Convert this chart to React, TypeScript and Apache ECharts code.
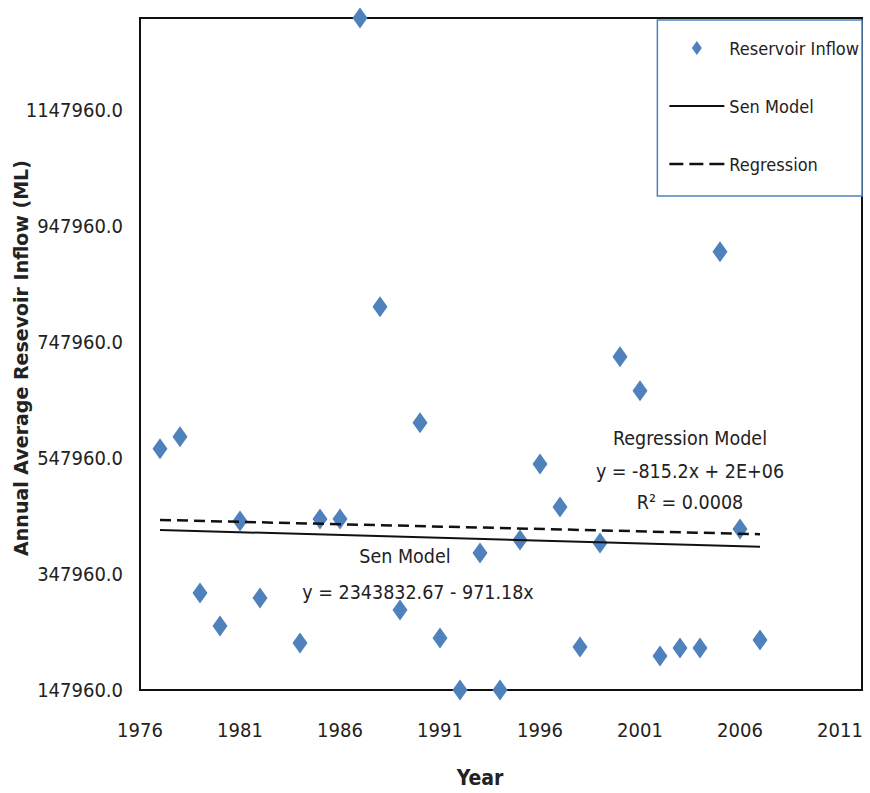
import React, { useEffect, useRef } from "react";
import * as echarts from "echarts";

const years = [1977, 1978, 1979, 1980, 1981, 1982, 1984, 1985, 1986, 1987, 1988, 1989, 1990, 1991, 1992, 1993, 1994, 1995, 1996, 1997, 1998, 1999, 2000, 2001, 2002, 2003, 2004, 2005, 2006, 2007];
const inflow = [563500, 584200, 315200, 258300, 439300, 306600, 229000, 442800, 442800, 1306000, 808300, 285900, 608300, 237600, 147960, 384200, 147960, 406600, 537600, 463500, 222100, 401400, 722100, 663500, 206600, 220400, 220400, 903100, 425500, 234200];
const senYears = [1977, 2007];
const senValues = [423810, 394675];
const regYears = [1977, 2007];
const regValues = [441000, 416500];

const NARROW = "'DejaVu Sans Condensed', 'DejaVu Sans', sans-serif";

export default function App() {
  const ref = useRef<HTMLDivElement>(null);
  useEffect(() => {
    document.body.style.margin = "0";
    const chart = echarts.init(ref.current!, null, { renderer: "svg" });
    chart.setOption({
      animation: false,
      backgroundColor: "#fff",
      grid: {
        left: 140, top: 18, right: 8, bottom: 103,
        outerBoundsMode: "none", containLabel: false,
        show: true, borderColor: "#111", borderWidth: 2, backgroundColor: "transparent",
      },
      legend: {
        orient: "vertical",
        right: 8,
        top: 20,
        padding: [19, 3, 23, 12],
        itemGap: 40,
        itemWidth: 55,
        itemHeight: 14,
        borderColor: "#4F81BD",
        borderWidth: 1.5,
        backgroundColor: "#fff",
        textStyle: { fontFamily: NARROW, fontSize: 18, color: "#222" },
        data: [
          { name: "Reservoir Inflow", icon: "path://M5,0L10,7L5,14L0,7Z", itemStyle: { color: "#4F81BD" } },
          { name: "Sen Model", icon: "path://M0,0h55v2h-55z", itemStyle: { color: "#111" } },
          { name: "Regression", icon: "path://M0,0h14v2.5h-14zM20,0h14v2.5h-14zM40,0h15v2.5h-15z", itemStyle: { color: "#111" } },
        ],
      },
      xAxis: {
        type: "value",
        min: 1976,
        max: 2012.1,
        interval: 5,
        axisLine: { show: false },
        axisTick: { show: false },
        splitLine: { show: false },
        axisLabel: {
          margin: 30,
          fontFamily: NARROW,
          fontSize: 20,
          color: "#222",
          showMaxLabel: false,
          formatter: (v: number) => ((v - 1976) % 5 === 0 && v <= 2011 ? String(v) : ""),
        },
      },
      yAxis: {
        type: "value",
        min: 147960,
        max: 1306000,
        interval: 200000,
        axisLine: { show: false },
        axisTick: { show: false },
        splitLine: { show: false },
        axisLabel: {
          margin: 17,
          fontFamily: NARROW,
          fontSize: 20,
          color: "#222",
          showMaxLabel: false,
          formatter: (v: number) => ((v - 147960) % 200000 === 0 ? v.toFixed(1) : ""),
        },
      },
      graphic: [
        { type: "text", x: 21, y: 358, rotation: Math.PI / 2, style: { text: "Annual Average Resevoir Inflow (ML)", fontFamily: "'DejaVu Sans', sans-serif", fontSize: 19, fontWeight: "bold", fill: "#222", align: "center", verticalAlign: "middle" } },
        { type: "text", x: 480, y: 778, style: { text: "Year", fontFamily: NARROW, fontSize: 21, fontWeight: "bold", fill: "#222", align: "center", verticalAlign: "middle" } },
        { type: "text", x: 690, y: 438, style: { text: "Regression Model", fontFamily: NARROW, fontSize: 19.5, fill: "#222", align: "center", verticalAlign: "middle" } },
        { type: "text", x: 690, y: 471, style: { text: "y = -815.2x + 2E+06", fontFamily: NARROW, fontSize: 19.5, fill: "#222", align: "center", verticalAlign: "middle" } },
        { type: "text", x: 690, y: 502, style: { text: "R² = 0.0008", fontFamily: NARROW, fontSize: 19.5, fill: "#222", align: "center", verticalAlign: "middle" } },
        { type: "text", x: 405, y: 556, style: { text: "Sen Model", fontFamily: NARROW, fontSize: 19.5, fill: "#222", align: "center", verticalAlign: "middle" } },
        { type: "text", x: 418, y: 592, style: { text: "y = 2343832.67 - 971.18x", fontFamily: NARROW, fontSize: 19.5, fill: "#222", align: "center", verticalAlign: "middle" } },
      ],
      series: [
        {
          name: "Reservoir Inflow",
          type: "scatter",
          symbol: "diamond",
          symbolSize: [15, 21],
          clip: false,
          itemStyle: { color: "#4F81BD", opacity: 1 },
          data: years.map((y, i) => [y, inflow[i]]),
          z: 2,
        },
        {
          name: "Sen Model",
          type: "line",
          symbol: "none",
          lineStyle: { color: "#111", width: 2, type: "solid" },
          itemStyle: { color: "#111" },
          data: senYears.map((y, i) => [y, senValues[i]]),
          z: 3,
        },
        {
          name: "Regression",
          type: "line",
          symbol: "none",
          lineStyle: { color: "#111", width: 2.5, type: [11, 6] },
          itemStyle: { color: "#111" },
          data: regYears.map((y, i) => [y, regValues[i]]),
          z: 3,
        },
      ],
    });
    return () => chart.dispose();
  }, []);
  return <div ref={ref} style={{ width: 870, height: 793 }} />;
}
